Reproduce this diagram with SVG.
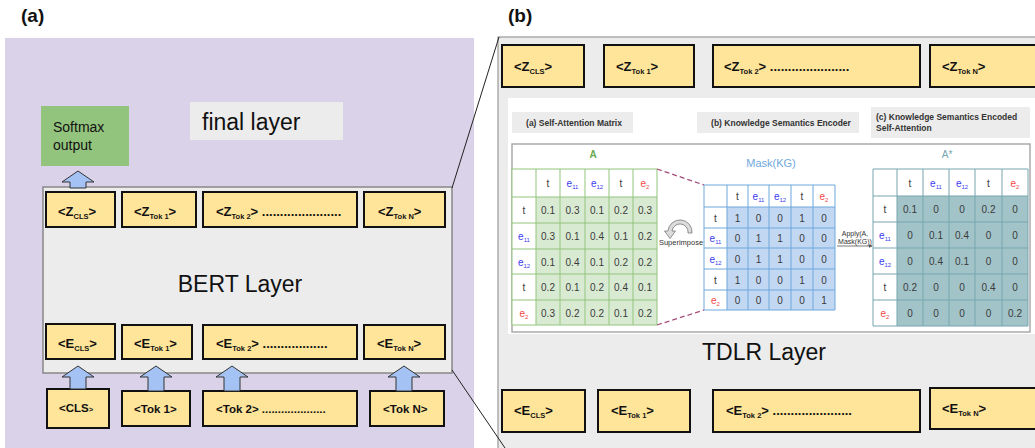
<svg xmlns="http://www.w3.org/2000/svg" width="1035" height="448" viewBox="0 0 1035 448">
  <style>
    .f { font-family: "Liberation Sans", Arial, sans-serif; }
    .tok { fill: #ffe599; stroke: #111; stroke-width: 2; }
    .tt { font-family: "Liberation Sans", Arial, sans-serif; font-weight: bold; font-size: 13px; fill: #111; }
    .it { font-family: "Liberation Sans", Arial, sans-serif; font-weight: bold; font-size: 11.5px; fill: #111; }
    .sub { font-size: 7.5px; }
    .up { fill: #a4c2f4; stroke: #333; stroke-width: 1; }
    .lbl { fill: #ececec; }
    .lt { font-family: "Liberation Sans", Arial, sans-serif; font-weight: bold; font-size: 8.5px; fill: #333; }
    .cell { font-family: "Liberation Sans", Arial, sans-serif; font-size: 10px; fill: #3a3a3a; text-anchor: middle; }
    .eb { fill: #3b3bef; }
    .er { fill: #f24848; }
    .es { font-size: 6px; }
    .conn { stroke: #222; stroke-width: 1; fill: none; }
    .dash { stroke: #a64d79; stroke-width: 1.3; stroke-dasharray: 5 3; fill: none; }
  </style>
  <defs>
    <marker id="ah" viewBox="0 0 6 6" refX="5" refY="3" markerWidth="5" markerHeight="5" orient="auto">
      <path d="M0,0 L6,3 L0,6 Z" fill="#555"/>
    </marker>
  </defs>

  <rect width="1035" height="448" fill="#ffffff"/>

  <!-- panel labels -->
  <text class="f" x="21" y="22" font-size="19" font-weight="bold" fill="#111">(a)</text>
  <text class="f" x="508" y="22" font-size="19" font-weight="bold" fill="#111">(b)</text>

  <!-- (a) BERT side -->
  <g id="panel-a">
    <rect x="5" y="38" width="469" height="410" fill="#d9d2e9"/>
  </g>

  <g id="final-layer">
    <rect x="190" y="102" width="153" height="38" class="lbl"/>
    <text class="f" x="202" y="130" font-size="23" fill="#111">final layer</text>
  </g>

  <g id="softmax">
    <rect x="41" y="106" width="88" height="60" fill="#93c47d"/>
    <text class="f" x="53" y="132" font-size="14" fill="#111">Softmax</text>
    <text class="f" x="53" y="150" font-size="14" fill="#111">output</text>
  </g>

  <g id="bert-layer">
    <rect x="43" y="187" width="409" height="186" fill="#ececec" stroke="#888" stroke-width="1.5"/>
    <text class="f" x="240" y="292" font-size="23" fill="#111" text-anchor="middle">BERT Layer</text>
  </g>

  <g id="bert-z">
    <rect x="46" y="192" width="69" height="35" class="tok"/>
    <text class="tt" x="58" y="216">&lt;Z<tspan class="sub" dy="3">CLS</tspan><tspan dy="-3">&gt;</tspan></text>
    <rect x="122" y="192" width="74" height="35" class="tok"/>
    <text class="tt" x="134" y="216">&lt;Z<tspan class="sub" dy="3">Tok 1</tspan><tspan dy="-3">&gt;</tspan></text>
    <rect x="203" y="192" width="154" height="35" class="tok"/>
    <text class="tt" x="216" y="216">&lt;Z<tspan class="sub" dy="3">Tok 2</tspan><tspan dy="-3">&gt; ......................</tspan></text>
    <rect x="364" y="192" width="81" height="35" class="tok"/>
    <text class="tt" x="378" y="216">&lt;Z<tspan class="sub" dy="3">Tok N</tspan><tspan dy="-3">&gt;</tspan></text>
  </g>

  <g id="bert-e">
    <rect x="46" y="324" width="69" height="35" class="tok"/>
    <text class="tt" x="58" y="348">&lt;E<tspan class="sub" dy="3">CLS</tspan><tspan dy="-3">&gt;</tspan></text>
    <rect x="122" y="325" width="70" height="34" class="tok"/>
    <text class="tt" x="134" y="348">&lt;E<tspan class="sub" dy="3">Tok 1</tspan><tspan dy="-3">&gt;</tspan></text>
    <rect x="203" y="325" width="154" height="34" class="tok"/>
    <text class="tt" x="216" y="348">&lt;E<tspan class="sub" dy="3">Tok 2</tspan><tspan dy="-3">&gt; ..................</tspan></text>
    <rect x="364" y="325" width="81" height="34" class="tok"/>
    <text class="tt" x="377" y="348">&lt;E<tspan class="sub" dy="3">Tok N</tspan><tspan dy="-3">&gt;</tspan></text>
  </g>

  <g id="bert-input">
    <rect x="47" y="389" width="62" height="39" class="tok"/>
    <text class="it" x="59" y="412">&lt;CLS<tspan font-size="7.5">&gt;</tspan></text>
    <rect x="122" y="391" width="68" height="35" class="tok"/>
    <text class="it" x="134" y="413">&lt;Tok 1&gt;</text>
    <rect x="203" y="391" width="154" height="35" class="tok"/>
    <text class="it" x="216" y="413">&lt;Tok 2&gt; ....................</text>
    <rect x="370" y="391" width="74" height="35" class="tok"/>
    <text class="it" x="383" y="413">&lt;Tok N&gt;</text>
  </g>

  <g id="arrows">
    <path class="up" d="M70,188 L70,182 L62,182 L78,171 L94,182 L86,182 L86,188 Z"/>
    <path class="up" d="M70,389 L70,377 L62,377 L78,366 L94,377 L86,377 L86,389 Z"/>
    <path class="up" d="M148,391 L148,377 L140,377 L156,366 L172,377 L164,377 L164,391 Z"/>
    <path class="up" d="M224,391 L224,377 L216,377 L232,366 L248,377 L240,377 L240,391 Z"/>
    <path class="up" d="M396,391 L396,377 L388,377 L404,366 L420,377 L412,377 L412,391 Z"/>
  </g>

  <!-- (b) TDLR side -->
  <g id="tdlr-layer">
    <rect x="498" y="37" width="545" height="420" fill="#ececec" stroke="#999" stroke-width="1.2"/>
    <text class="f" x="764" y="360" font-size="23" fill="#111" text-anchor="middle">TDLR Layer</text>
  </g>

  <g id="tdlr-z">
    <rect x="502" y="45" width="82" height="42" class="tok"/>
    <text class="tt" x="514" y="71">&lt;Z<tspan class="sub" dy="3">CLS</tspan><tspan dy="-3">&gt;</tspan></text>
    <rect x="604" y="45" width="90" height="42" class="tok"/>
    <text class="tt" x="616" y="71">&lt;Z<tspan class="sub" dy="3">Tok 1</tspan><tspan dy="-3">&gt;</tspan></text>
    <rect x="713" y="45" width="207" height="42" class="tok"/>
    <text class="tt" x="724" y="71">&lt;Z<tspan class="sub" dy="3">Tok 2</tspan><tspan dy="-3">&gt; ......................</tspan></text>
    <rect x="930" y="45" width="120" height="42" class="tok"/>
    <text class="tt" x="942" y="71">&lt;Z<tspan class="sub" dy="3">Tok N</tspan><tspan dy="-3">&gt;</tspan></text>
  </g>

  <g id="tdlr-e">
    <rect x="502" y="390" width="83" height="42" class="tok"/>
    <text class="tt" x="514" y="415">&lt;E<tspan class="sub" dy="3">CLS</tspan><tspan dy="-3">&gt;</tspan></text>
    <rect x="598" y="390" width="92" height="42" class="tok"/>
    <text class="tt" x="611" y="415">&lt;E<tspan class="sub" dy="3">Tok 1</tspan><tspan dy="-3">&gt;</tspan></text>
    <rect x="713" y="390" width="207" height="42" class="tok"/>
    <text class="tt" x="726" y="415">&lt;E<tspan class="sub" dy="3">Tok 2</tspan><tspan dy="-3">&gt; ......................</tspan></text>
    <rect x="930" y="388" width="120" height="41" class="tok"/>
    <text class="tt" x="942" y="413">&lt;E<tspan class="sub" dy="3">Tok N</tspan><tspan dy="-3">&gt;</tspan></text>
  </g>

  <g id="attention-panel">
    <rect x="508" y="98" width="540" height="236" fill="#ffffff"/>
    <rect x="512" y="112" width="121" height="21" class="lbl"/>
    <text class="lt" x="574" y="126" text-anchor="middle">(a) Self-Attention Matrix</text>
    <rect x="697" y="112" width="162" height="21" class="lbl"/>
    <text class="lt" x="781" y="126" text-anchor="middle">(b) Knowledge Semantics Encoder</text>
    <rect x="871" y="107" width="159" height="31" class="lbl"/>
    <text class="lt" x="876" y="120">(c) Knowledge Semantics Encoded</text>
    <text class="lt" x="876" y="131">Self-Attention</text>
    <rect x="512" y="144" width="518" height="188" fill="none" stroke="#aaa" stroke-width="1.5"/>
  </g>

  <!-- A: self-attention matrix -->
  <g id="matrix-a">
    <text class="f" x="593" y="158" font-size="10" font-weight="bold" fill="#6aa84f" text-anchor="middle">A</text>
    <rect x="512" y="169" width="145" height="156" fill="#ffffff"/>
    <rect x="536" y="197" width="121" height="128" fill="#d9ead3"/>
    <path d="M512,169 V325 M536,169 V325 M560,169 V325 M585,169 V325 M609,169 V325 M633,169 V325 M657,169 V325 M512,169 H657 M512,197 H657 M512,223 H657 M512,249 H657 M512,274 H657 M512,300 H657 M512,325 H657" stroke="#93c47d" stroke-width="1" fill="none"/>
    <text class="cell" x="548" y="187">t</text>
    <text class="cell eb" x="572.5" y="187">e<tspan class="es" dy="2">11</tspan></text>
    <text class="cell eb" x="597" y="187">e<tspan class="es" dy="2">12</tspan></text>
    <text class="cell" x="621" y="187">t</text>
    <text class="cell er" x="645" y="187">e<tspan class="es" dy="2">2</tspan></text>
    <text class="cell" x="524" y="214">t</text>
    <text class="cell eb" x="524" y="240">e<tspan class="es" dy="2">11</tspan></text>
    <text class="cell eb" x="524" y="265.5">e<tspan class="es" dy="2">12</tspan></text>
    <text class="cell" x="524" y="291">t</text>
    <text class="cell er" x="524" y="316.5">e<tspan class="es" dy="2">2</tspan></text>
    <text class="cell" y="214"><tspan x="548">0.1</tspan><tspan x="572.5">0.3</tspan><tspan x="597">0.1</tspan><tspan x="621">0.2</tspan><tspan x="645">0.3</tspan></text>
    <text class="cell" y="240"><tspan x="548">0.3</tspan><tspan x="572.5">0.1</tspan><tspan x="597">0.4</tspan><tspan x="621">0.1</tspan><tspan x="645">0.2</tspan></text>
    <text class="cell" y="265.5"><tspan x="548">0.1</tspan><tspan x="572.5">0.4</tspan><tspan x="597">0.1</tspan><tspan x="621">0.2</tspan><tspan x="645">0.2</tspan></text>
    <text class="cell" y="291"><tspan x="548">0.2</tspan><tspan x="572.5">0.1</tspan><tspan x="597">0.2</tspan><tspan x="621">0.4</tspan><tspan x="645">0.1</tspan></text>
    <text class="cell" y="316.5"><tspan x="548">0.3</tspan><tspan x="572.5">0.2</tspan><tspan x="597">0.2</tspan><tspan x="621">0.1</tspan><tspan x="645">0.2</tspan></text>
  </g>

  <!-- Mask(KG): knowledge semantics encoder -->
  <g id="matrix-mask">
    <text class="f" x="771" y="167" font-size="11" fill="#6fa8dc" text-anchor="middle">Mask(KG)</text>
    <rect x="704" y="185" width="131" height="125" fill="#ffffff"/>
    <rect x="727" y="207" width="108" height="103" fill="#c2d7f2"/>
    <path d="M704,185 V310 M727,185 V310 M748,185 V310 M769,185 V310 M791,185 V310 M813,185 V310 M835,185 V310 M704,185 H835 M704,207 H835 M704,228 H835 M704,248 H835 M704,269 H835 M704,290 H835 M704,310 H835" stroke="#6fa8dc" stroke-width="1" fill="none"/>
    <text class="cell" x="737.5" y="199.5">t</text>
    <text class="cell eb" x="758.5" y="199.5">e<tspan class="es" dy="2">11</tspan></text>
    <text class="cell eb" x="780" y="199.5">e<tspan class="es" dy="2">12</tspan></text>
    <text class="cell" x="802" y="199.5">t</text>
    <text class="cell er" x="824" y="199.5">e<tspan class="es" dy="2">2</tspan></text>
    <text class="cell" x="715.5" y="221.5">t</text>
    <text class="cell eb" x="715.5" y="242">e<tspan class="es" dy="2">11</tspan></text>
    <text class="cell eb" x="715.5" y="262.5">e<tspan class="es" dy="2">12</tspan></text>
    <text class="cell" x="715.5" y="283.5">t</text>
    <text class="cell er" x="715.5" y="304">e<tspan class="es" dy="2">2</tspan></text>
    <text class="cell" y="221.5"><tspan x="737.5">1</tspan><tspan x="758.5">0</tspan><tspan x="780">0</tspan><tspan x="802">1</tspan><tspan x="824">0</tspan></text>
    <text class="cell" y="242"><tspan x="737.5">0</tspan><tspan x="758.5">1</tspan><tspan x="780">1</tspan><tspan x="802">0</tspan><tspan x="824">0</tspan></text>
    <text class="cell" y="262.5"><tspan x="737.5">0</tspan><tspan x="758.5">1</tspan><tspan x="780">1</tspan><tspan x="802">0</tspan><tspan x="824">0</tspan></text>
    <text class="cell" y="283.5"><tspan x="737.5">1</tspan><tspan x="758.5">0</tspan><tspan x="780">0</tspan><tspan x="802">1</tspan><tspan x="824">0</tspan></text>
    <text class="cell" y="304"><tspan x="737.5">0</tspan><tspan x="758.5">0</tspan><tspan x="780">0</tspan><tspan x="802">0</tspan><tspan x="824">1</tspan></text>
  </g>

  <!-- A*: knowledge semantics encoded self-attention -->
  <g id="matrix-a-star">
    <text class="f" x="947" y="158" font-size="10" fill="#76a5af" text-anchor="middle">A*</text>
    <rect x="873" y="169" width="155" height="157" fill="#ffffff"/>
    <rect x="897" y="196" width="131" height="130" fill="#a2c4c9"/>
    <path d="M873,169 V326 M897,169 V326 M923,169 V326 M949,169 V326 M975,169 V326 M1002,169 V326 M1028,169 V326 M873,169 H1028 M873,196 H1028 M873,222 H1028 M873,248 H1028 M873,274 H1028 M873,300 H1028 M873,326 H1028" stroke="#76a5af" stroke-width="1" fill="none"/>
    <text class="cell" x="910" y="186.5">t</text>
    <text class="cell eb" x="936" y="186.5">e<tspan class="es" dy="2">11</tspan></text>
    <text class="cell eb" x="962" y="186.5">e<tspan class="es" dy="2">12</tspan></text>
    <text class="cell" x="988.5" y="186.5">t</text>
    <text class="cell er" x="1015" y="186.5">e<tspan class="es" dy="2">2</tspan></text>
    <text class="cell" x="885" y="213">t</text>
    <text class="cell eb" x="885" y="239">e<tspan class="es" dy="2">11</tspan></text>
    <text class="cell eb" x="885" y="265">e<tspan class="es" dy="2">12</tspan></text>
    <text class="cell" x="885" y="291">t</text>
    <text class="cell er" x="885" y="317">e<tspan class="es" dy="2">2</tspan></text>
    <text class="cell" y="213"><tspan x="910">0.1</tspan><tspan x="936">0</tspan><tspan x="962">0</tspan><tspan x="988.5">0.2</tspan><tspan x="1015">0</tspan></text>
    <text class="cell" y="239"><tspan x="910">0</tspan><tspan x="936">0.1</tspan><tspan x="962">0.4</tspan><tspan x="988.5">0</tspan><tspan x="1015">0</tspan></text>
    <text class="cell" y="265"><tspan x="910">0</tspan><tspan x="936">0.4</tspan><tspan x="962">0.1</tspan><tspan x="988.5">0</tspan><tspan x="1015">0</tspan></text>
    <text class="cell" y="291"><tspan x="910">0.2</tspan><tspan x="936">0</tspan><tspan x="962">0</tspan><tspan x="988.5">0.4</tspan><tspan x="1015">0</tspan></text>
    <text class="cell" y="317"><tspan x="910">0</tspan><tspan x="936">0</tspan><tspan x="962">0</tspan><tspan x="988.5">0</tspan><tspan x="1015">0.2</tspan></text>
  </g>

  <g id="superimpose">
    <path d="M692,233 A12,12 0 0,0 668,231 L664.5,231 L670,238.5 L675.5,231 L672,231 A8,8 0 0,1 688,233 Z" fill="#dcdcdc" stroke="#777" stroke-width="0.8"/>
    <text class="f" x="681" y="245" font-size="7.5" fill="#333" text-anchor="middle">Superimpose</text>
  </g>

  <g id="apply">
    <text class="f" x="855" y="236" font-size="7" fill="#333" text-anchor="middle">Apply(A,</text>
    <text class="f" x="855" y="243.5" font-size="7" fill="#333" text-anchor="middle">Mask(KG))</text>
  </g>

  <!-- connectors -->
  <g id="connectors">
    <path class="conn" d="M452,188 L499,37"/>
    <path class="conn" d="M452,370 L505,448"/>
    <path class="dash" d="M657,169 L704,185"/>
    <path class="dash" d="M657,325 L704,310"/>
    <path d="M837,246 L872,246" stroke="#555" stroke-width="0.8" fill="none" marker-end="url(#ah)"/>
  </g>
</svg>
